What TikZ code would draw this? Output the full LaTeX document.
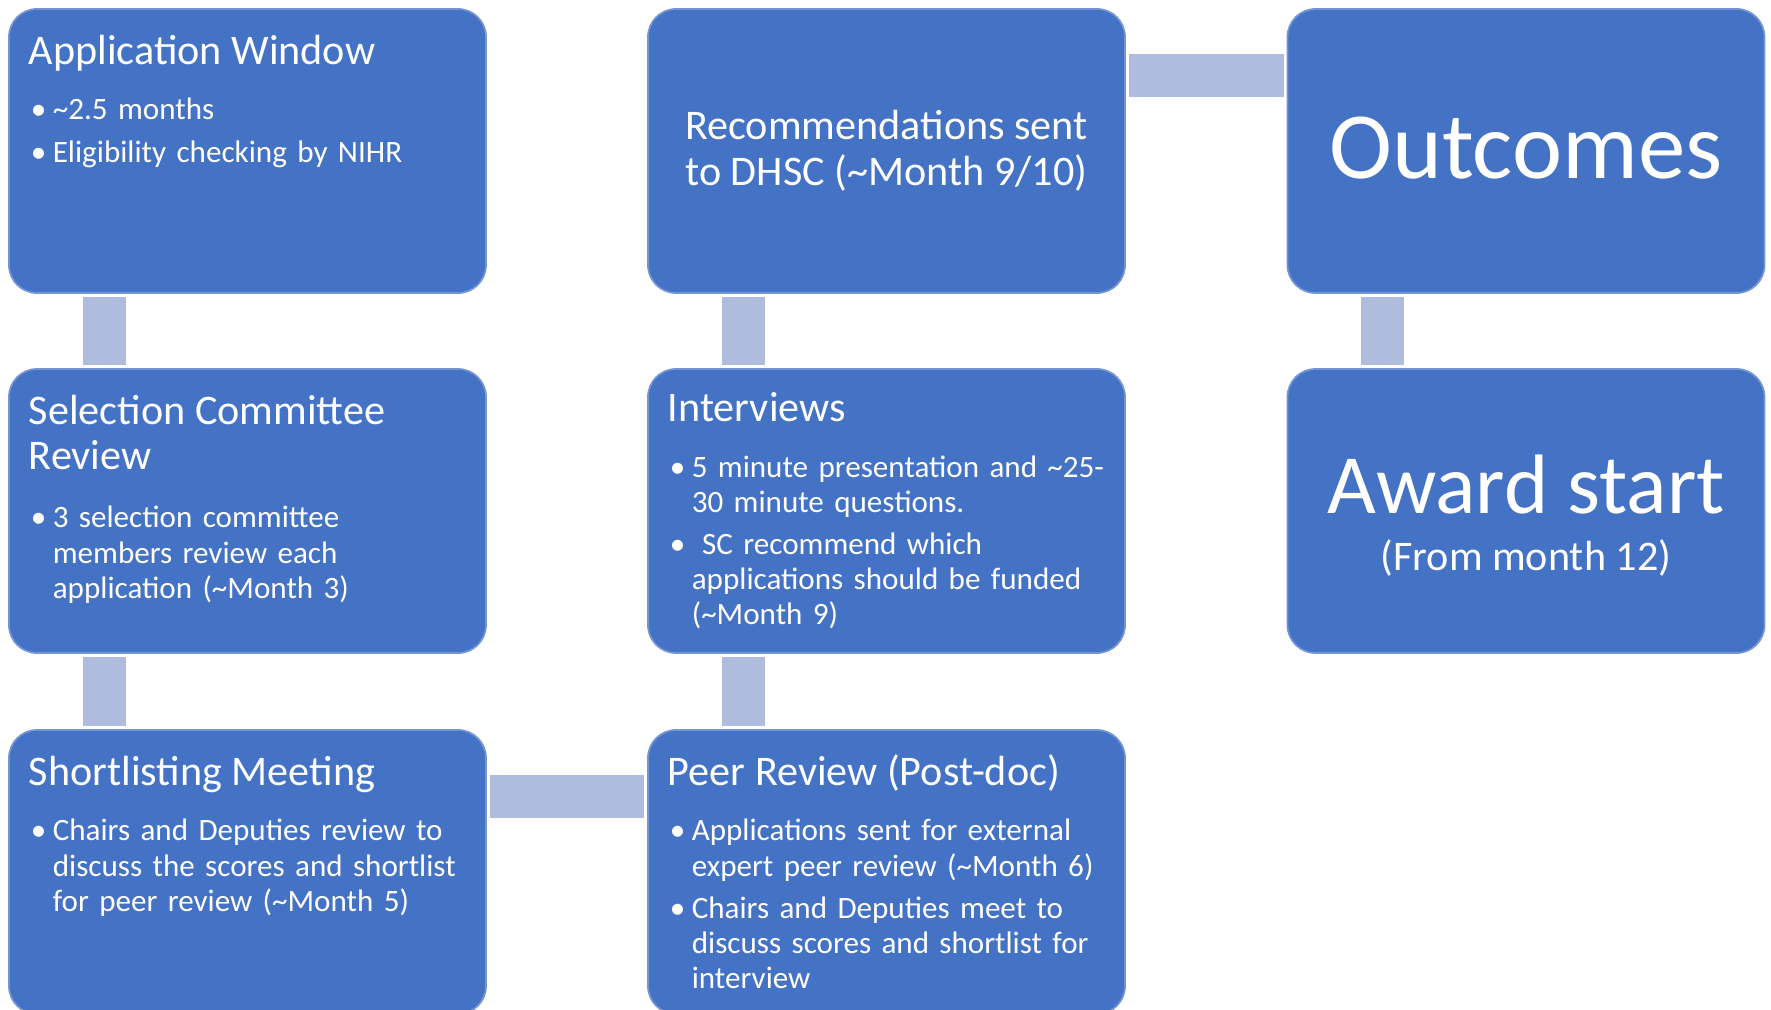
\documentclass[tikz,border=0pt]{standalone}
\usepackage{fontspec}
\setmainfont{Carlito}
\usetikzlibrary{positioning}

\definecolor{boxblue}{RGB}{68,114,196}
\definecolor{linkblue}{RGB}{176,188,222}

\tikzset{
  stage/.style={draw=boxblue!75!white, line width=0.5pt, fill=boxblue, rounded corners=0.28cm, minimum width=4.77cm, minimum height=2.84cm, inner sep=0pt},
  head/.style={anchor=north west, inner sep=0pt, text=white, align=left, font=\fontsize{12}{12.8}\selectfont},
  body/.style={inner sep=0pt, text=white, text width=5cm, align=left, font=\fontsize{8.85}{10}\selectfont\setlength{\parskip}{0.07cm}},
  link/.style={draw=linkblue, line width=0.43cm, shorten <=0.03cm, shorten >=0.03cm}
}
\newcommand{\hs}{\rule{0pt}{0.45cm}}
\newcommand{\hd}{\rule[-0.12cm]{0pt}{0.12cm}}
\newcommand{\bs}{\rule{0pt}{0.3cm}}
\newcommand{\bitem}{\par\noindent\hangindent=0.24cm\hangafter=1\makebox[0.24cm][l]{\hspace{0.02cm}\textbullet}}

\begin{document}
\begin{tikzpicture}
  \useasboundingbox (0,0) rectangle (17.71,10.09);
  \clip (0,0) rectangle (17.71,10.09);

  % left column
  \node[stage] (appwin) at (2.475,8.58) {};
  \node[head] (appwin-t) at ([xshift=0.2cm,yshift=-0.105cm]appwin.north west) {\hs Application Window\hd};
  \node[body, below=0cm of appwin-t.south west, anchor=north west] (appwin-b)
    {\bitem\bs\textasciitilde2.5 months
     \bitem Eligibility checking by NIHR\par};

  \node[stage] (selrev) at (2.475,4.98) {};
  \node[head] (selrev-t) at ([xshift=0.2cm,yshift=-0.105cm]selrev.north west) {\hs Selection Committee\\Review\hd};
  \node[body, below=0.03cm of selrev-t.south west, anchor=north west] (selrev-b)
    {\bitem\bs 3 selection committee\newline members review each\newline application (\textasciitilde Month 3)\par};

  \node[stage] (shortlist) at (2.475,1.37) {};
  \node[head] (shortlist-t) at ([xshift=0.2cm,yshift=-0.105cm]shortlist.north west) {\hs Shortlisting Meeting\hd};
  \node[body, below=0cm of shortlist-t.south west, anchor=north west] (shortlist-b)
    {\bitem\bs Chairs and Deputies review to\newline discuss the scores and shortlist\newline for peer review (\textasciitilde Month 5)\par};

  % middle column
  \node[stage] (peerrev) at (8.865,1.37) {};
  \node[head] (peerrev-t) at ([xshift=0.2cm,yshift=-0.105cm]peerrev.north west) {\hs Peer Review (Post-doc)\hd};
  \node[body, below=0cm of peerrev-t.south west, anchor=north west] (peerrev-b)
    {\bitem\bs Applications sent for external\newline expert peer review (\textasciitilde Month 6)
     \bitem Chairs and Deputies meet to\newline discuss scores and shortlist for\newline interview\par};

  \node[stage] (interv) at (8.865,4.98) {};
  \node[head] (interv-t) at ([xshift=0.2cm,yshift=-0.08cm]interv.north west) {\hs Interviews\hd};
  \node[body, below=0cm of interv-t.south west, anchor=north west] (interv-b)
    {\bitem\bs 5 minute presentation and \textasciitilde25-\newline 30 minute questions.
     \bitem\ SC recommend which\newline applications should be funded\newline (\textasciitilde Month 9)\par};

  \node[stage, text=white, align=center, font=\fontsize{12}{13.1}\selectfont] (recsent) at (8.865,8.58)
    {Recommendations sent\\to DHSC (\textasciitilde Month 9/10)};

  % right column
  \node[stage] (outcomes) at (15.26,8.58) {};
  \node[text=white, font=\fontsize{27}{30}\selectfont, inner sep=0pt] (outcomes-t) at ([yshift=0.025cm]outcomes.center) {Outcomes};

  \node[stage] (award) at (15.26,4.98) {};
  \node[text=white, font=\fontsize{24}{26}\selectfont, inner sep=0pt, anchor=base] (award-t) at ([yshift=-0.02cm]award.center) {Award start};
  \node[text=white, font=\fontsize{12}{13}\selectfont, inner sep=0pt, anchor=base] (award-s) at ([yshift=-0.59cm]award.center) {(From month 12)};

  % connectors
  \draw[link] ([xshift=0.96cm]appwin.south west) -- ([xshift=0.96cm]selrev.north west);
  \draw[link] ([xshift=0.96cm]selrev.south west) -- ([xshift=0.96cm]shortlist.north west);
  \draw[link] ([yshift=-0.67cm]shortlist.north east) -- ([yshift=-0.67cm]peerrev.north west);
  \draw[link] ([xshift=0.96cm]peerrev.north west) -- ([xshift=0.96cm]interv.south west);
  \draw[link] ([xshift=0.96cm]interv.north west) -- ([xshift=0.96cm]recsent.south west);
  \draw[link] ([yshift=-0.67cm]recsent.north east) -- ([yshift=-0.67cm]outcomes.north west);
  \draw[link] ([xshift=0.96cm]outcomes.south west) -- ([xshift=0.96cm]award.north west);
\end{tikzpicture}
\end{document}
